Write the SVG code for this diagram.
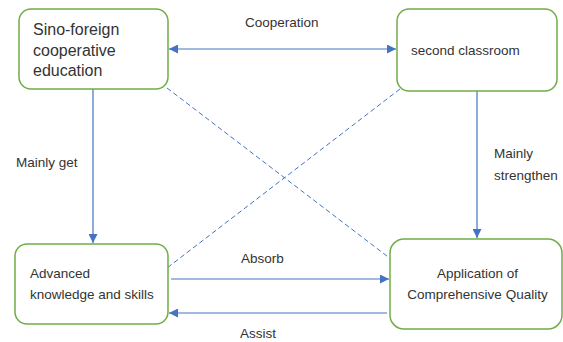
<svg xmlns="http://www.w3.org/2000/svg" width="563" height="342" viewBox="0 0 563 342">
  <style>
    .box { fill: #ffffff; stroke: #70ad47; stroke-width: 1.5; }
    .txt { font-family: "Liberation Sans", Arial, sans-serif; fill: #333333; font-size: 13.5px; }
    .big { font-size: 16px; }
    .line { stroke: #4472c4; stroke-width: 1.2; fill: none; }
    .dash { stroke: #4472c4; stroke-width: 1; fill: none; stroke-dasharray: 5 3; }
  </style>
  <defs>
    <marker id="arrow" viewBox="0 0 10 10" refX="10" refY="5" markerWidth="9" markerHeight="9" markerUnits="userSpaceOnUse" orient="auto-start-reverse">
      <path d="M0,0 L10,5 L0,10 z" fill="#4472c4"/>
    </marker>
  </defs>
  <rect width="563" height="342" fill="#ffffff"/>

  <g id="connectors">
    <line class="line" x1="169" y1="49" x2="396" y2="49" marker-start="url(#arrow)" marker-end="url(#arrow)"/>
    <line class="line" x1="93" y1="89" x2="93" y2="243" marker-end="url(#arrow)"/>
    <line class="line" x1="477" y1="91" x2="477" y2="238" marker-end="url(#arrow)"/>
    <line class="dash" x1="167" y1="88" x2="400" y2="266"/>
    <line class="dash" x1="400" y1="89" x2="167" y2="268"/>
    <line class="line" x1="171" y1="279" x2="389" y2="279" marker-end="url(#arrow)"/>
    <line class="line" x1="387" y1="313" x2="169" y2="313" marker-end="url(#arrow)"/>
    <text class="txt" x="245" y="27">Cooperation</text>
    <text class="txt" x="16" y="167">Mainly get</text>
    <text class="txt" x="494" y="158">Mainly</text>
    <text class="txt" x="494" y="180">strengthen</text>
    <text class="txt" x="241" y="263">Absorb</text>
    <text class="txt" x="240" y="338">Assist</text>
  </g>

  <g id="sino-foreign">
    <rect class="box" x="19" y="9" width="149" height="80" rx="12"/>
    <text class="txt big" x="33" y="35">Sino-foreign</text>
    <text class="txt big" x="33" y="55.5">cooperative</text>
    <text class="txt big" x="33" y="76">education</text>
  </g>

  <g id="second-classroom">
    <rect class="box" x="397" y="9" width="160" height="82" rx="12"/>
    <text class="txt" x="411" y="55">second classroom</text>
  </g>

  <g id="advanced-knowledge">
    <rect class="box" x="15" y="244" width="153" height="80" rx="12"/>
    <text class="txt" x="30" y="278">Advanced</text>
    <text class="txt" x="30" y="299">knowledge and skills</text>
  </g>

  <g id="comprehensive-quality">
    <rect class="box" x="390" y="239" width="172" height="90" rx="14"/>
    <text class="txt" x="477.5" y="278" text-anchor="middle">Application of</text>
    <text class="txt" x="477.5" y="299" text-anchor="middle">Comprehensive Quality</text>
  </g>
</svg>
